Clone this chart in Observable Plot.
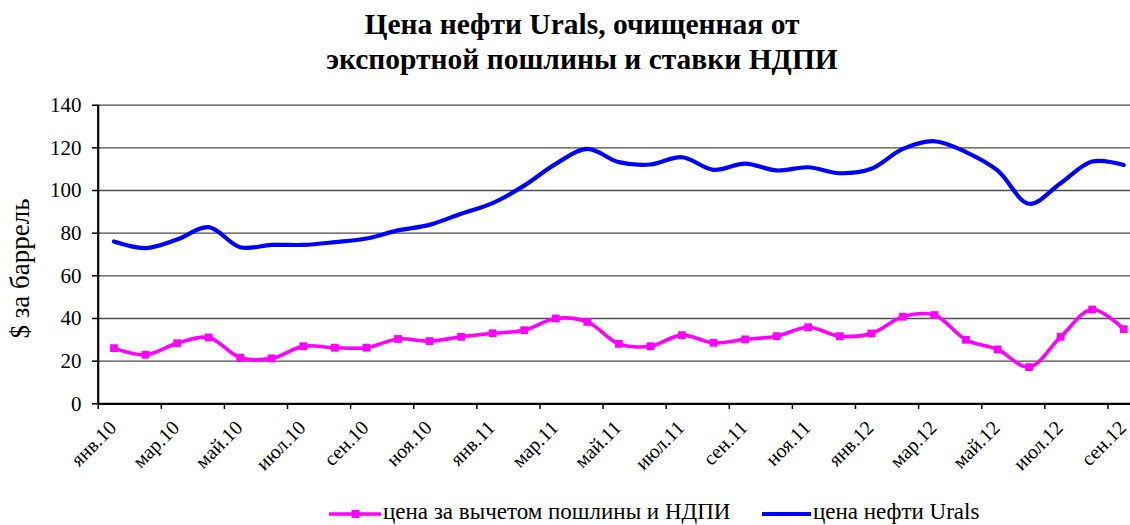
<!DOCTYPE html>
<html>
<head>
<meta charset="utf-8">
<script src="https://cdn.jsdelivr.net/npm/d3@7"></script>
<script src="https://cdn.jsdelivr.net/npm/@observablehq/plot@0.6"></script>
<style>
  html, body { margin: 0; padding: 0; background: #fff; }
  #wrap { position: relative; width: 1130px; height: 525px; overflow: hidden; font-family: "Liberation Serif", "Times New Roman", serif; }
  #title { position: absolute; left: 34px; top: 7px; width: 1096px; text-align: center; font-weight: bold; font-size: 29.5px; line-height: 34.5px; color: #000; }
  #chart { position: absolute; left: 0; top: 80px; }
  #legend { position: absolute; left: 0; top: 499px; width: 1130px; height: 25px; font-size: 23px; line-height: 25px; color: #000; }
  .item { position: absolute; top: 0; height: 25px; display: flex; align-items: center; white-space: nowrap; }
  .item svg { display: block; }
</style>
</head>
<body>
<div id="wrap">
  <div id="title">Цена нефти Urals, очищенная от<br>экспортной пошлины и ставки НДПИ</div>
  <div id="chart"></div>
  <div id="legend"></div>
</div>
<script>
const months = [
  "янв.10","фев.10","мар.10","апр.10","май.10","июн.10","июл.10","авг.10","сен.10","окт.10","ноя.10","дек.10",
  "янв.11","фев.11","мар.11","апр.11","май.11","июн.11","июл.11","авг.11","сен.11","окт.11","ноя.11","дек.11",
  "янв.12","фев.12","мар.12","апр.12","май.12","июн.12","июл.12","авг.12","сен.12"
];
const netPrice = [
  26.1, 23.0, 28.4, 31.1, 21.6, 21.3, 27.0, 26.3, 26.3, 30.4, 29.4, 31.4,
  33.1, 34.5, 40.0, 38.4, 28.1, 27.0, 32.2, 28.6, 30.2, 31.7, 35.9, 31.7,
  33.0, 40.8, 41.6, 30.0, 25.5, 17.2, 31.4, 44.2, 35.0
];
const uralsPrice = [
  76.1, 73.0, 77.0, 82.8, 73.4, 74.5, 74.5, 75.8, 77.5, 81.3, 83.9, 89.1,
  94.1, 102.3, 112.5, 119.5, 113.3, 112.2, 115.6, 109.7, 112.6, 109.4, 110.9, 108.1,
  110.2, 119.5, 123.1, 118.0, 109.4, 93.8, 103.4, 113.6, 112.0
];
const yTicks = [0, 20, 40, 60, 80, 100, 120, 140];
const seriesNames = ["цена за вычетом пошлины и НДПИ", "цена нефти Urals"];
const yLabel = "$ за баррель";

const data = months.map((m, i) => ({i, m, net: netPrice[i], urals: uralsPrice[i]}));
const labelIdx = months.map((_, i) => i).filter(i => i % 2 === 0);
const boundaries = labelIdx.map(i => i - 0.5);

const font = '"Liberation Serif", "Times New Roman", serif';

const chart = Plot.plot({
  width: 1130,
  height: 400,
  marginLeft: 98,
  marginRight: 0,
  marginTop: 25,
  marginBottom: 77,
  style: {fontFamily: font, fontSize: "20px", color: "#000", background: "transparent", overflow: "hidden"},
  x: {type: "linear", domain: [-0.5, months.length - 0.5], range: [97.7, 1139]},
  y: {domain: [0, 140], range: [323.3, 24.7]},
  marks: [
    Plot.gridY(yTicks.filter(d => d > 0), {stroke: "#4d4d4d", strokeOpacity: 1, strokeWidth: 1.3}),
    Plot.axisY({ticks: yTicks, tickSize: 6, tickPadding: 11, fontSize: 21, fontFamily: font, label: null, stroke: "#000", strokeWidth: 1.5}),
    Plot.axisX({ticks: boundaries, tickSize: 6, tickFormat: () => "", label: null, stroke: "#000", strokeWidth: 1.5}),
    Plot.axisX({ticks: labelIdx, tickSize: 0, tickPadding: 21, tickRotate: -45, tickFormat: i => months[i], fontSize: 20, fontFamily: font, label: null, dx: -1}),
    Plot.ruleY([0], {stroke: "#000", strokeWidth: 2.2}),
    Plot.ruleX([-0.5], {y1: 0, y2: 140, stroke: "#000", strokeWidth: 2.2}),
    Plot.line(data, {x: "i", y: "urals", stroke: "#0000ff", strokeWidth: 4.2, curve: "catmull-rom"}),
    Plot.line(data, {x: "i", y: "net", stroke: "#ff00ff", strokeWidth: 3.6, curve: "catmull-rom"}),
    Plot.dot(data, {x: "i", y: "net", symbol: "square", r: 4.4, fill: "#ff00ff", stroke: "none"}),
    Plot.text([yLabel], {frameAnchor: "left", rotate: -90, dx: -78, dy: 14, fontSize: 27, fontFamily: font, textAnchor: "middle", fill: "#000"})
  ]
});
document.getElementById("chart").appendChild(chart);

// legend
const legend = document.getElementById("legend");
const items = [
  {name: seriesNames[0], color: "#ff00ff", marker: true, left: 329, sw: 53},
  {name: seriesNames[1], color: "#0000ff", marker: false, left: 762, sw: 50}
];
const ns = "http://www.w3.org/2000/svg";
for (const it of items) {
  const div = document.createElement("div");
  div.className = "item";
  div.style.left = it.left + "px";
  const s = document.createElementNS(ns, "svg");
  s.setAttribute("width", it.sw);
  s.setAttribute("height", 25);
  const l = document.createElementNS(ns, "line");
  l.setAttribute("x1", 0); l.setAttribute("x2", it.sw - 1);
  l.setAttribute("y1", 15); l.setAttribute("y2", 15);
  l.setAttribute("stroke", it.color); l.setAttribute("stroke-width", it.marker ? 3.6 : 4.2);
  s.appendChild(l);
  if (it.marker) {
    const r = document.createElementNS(ns, "rect");
    r.setAttribute("x", it.sw / 2 - 4); r.setAttribute("y", 11);
    r.setAttribute("width", 8); r.setAttribute("height", 8);
    r.setAttribute("fill", it.color);
    s.appendChild(r);
  }
  div.appendChild(s);
  const t = document.createElement("span");
  t.textContent = it.name;
  t.style.marginLeft = "1px";
  div.appendChild(t);
  legend.appendChild(div);
}
</script>
</body>
</html>
